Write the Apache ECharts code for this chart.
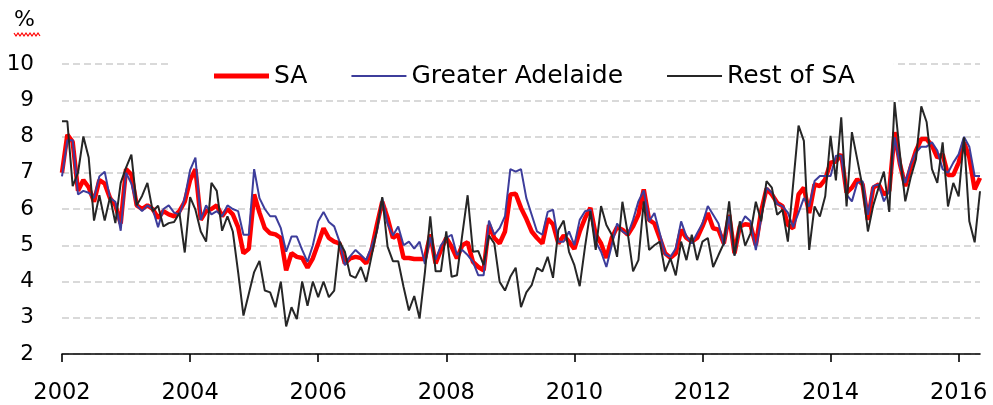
<!DOCTYPE html>
<html>
<head>
<meta charset="utf-8">
<script src="https://cdn.jsdelivr.net/npm/echarts@6/dist/echarts.min.js"></script>
<style>
  html, body { margin: 0; padding: 0; background: #fff; }
  #chart { width: 993px; height: 405px; }
</style>
</head>
<body>
<div id="chart"></div>
<script>
// monthly, Jan 2002 .. May 2016
const startYear = 2002;
const monthCount = 173;
const categories = [];
for (let i = 0; i < monthCount; i++) {
  const y = startYear + Math.floor(i / 12);
  const m = (i % 12) + 1;
  categories.push(y + "-" + (m < 10 ? "0" + m : m));
}

const saValues = [
  7.0, 8.05, 7.85, 6.5, 6.8, 6.6, 6.2, 6.8, 6.7, 6.3,
  6.1, 5.6, 7.1, 6.95, 6.1, 6.0, 6.1, 6.0, 5.75, 5.94,
  5.85, 5.8, 5.94, 6.2, 6.8, 7.1, 5.7, 5.94, 6.0, 6.1,
  5.8, 6.0, 5.85, 5.5, 4.78, 4.9, 6.4, 5.9, 5.47, 5.33,
  5.3, 5.2, 4.31, 4.78, 4.68, 4.65, 4.38, 4.64, 5.05, 5.47,
  5.2, 5.1, 5.05, 4.5, 4.64, 4.68, 4.65, 4.5, 4.87, 5.56,
  6.2, 5.75, 5.2, 5.3, 4.65, 4.65, 4.62, 4.62, 4.62, 5.3,
  4.5, 4.87, 5.2, 4.96, 4.64, 5.0, 5.08, 4.54, 4.4, 4.31,
  5.56, 5.2, 5.05, 5.38, 6.4, 6.42, 6.03, 5.73, 5.38, 5.2,
  5.05, 5.73, 5.58, 5.05, 5.27, 5.1, 4.9, 5.38, 5.75, 6.03,
  5.29, 5.05, 4.65, 5.2, 5.5, 5.43, 5.29, 5.52, 5.84, 6.54,
  5.7, 5.6, 5.2, 4.78, 4.65, 4.78, 5.43, 5.2, 5.1, 5.2,
  5.52, 5.89, 5.47, 5.43, 5.05, 5.84, 4.78, 5.52, 5.58, 5.56,
  5.0, 5.94, 6.56, 6.4, 6.17, 6.08, 5.56, 5.47, 6.4, 6.59,
  5.89, 6.68, 6.63, 6.82, 7.28, 7.31, 7.51, 6.45, 6.59, 6.82,
  6.68, 5.7, 6.59, 6.68, 6.4, 6.5, 8.12, 7.24, 6.63, 7.14,
  7.61, 7.93, 7.93, 7.75, 7.42, 7.51, 6.94, 6.94, 7.28, 7.84,
  7.42, 6.54, 6.86
];

const adelaideValues = [
  6.9, 7.9, 7.9, 6.4, 6.5, 6.45, 6.3, 6.9, 7.03, 6.3,
  6.2, 5.4, 7.0, 6.7, 6.1, 5.94, 6.1, 6.0, 5.5, 6.0,
  6.1, 5.9, 5.85, 6.3, 7.07, 7.42, 5.7, 6.1, 5.85, 5.94,
  5.8, 6.1, 6.0, 5.94, 5.29, 5.29, 7.1, 6.3, 6.0, 5.8,
  5.8, 5.47, 4.82, 5.24, 5.24, 4.87, 4.54, 5.0, 5.66, 5.92,
  5.64, 5.52, 5.1, 4.45, 4.7, 4.87, 4.73, 4.59, 4.96, 5.38,
  6.3, 5.6, 5.27, 5.52, 5.0, 5.1, 4.91, 5.1, 4.48, 5.22,
  4.6, 5.0, 5.2, 5.29, 4.73, 4.87, 4.73, 4.54, 4.17, 4.17,
  5.68, 5.29, 5.47, 5.8, 7.1, 7.03, 7.1, 6.3, 5.84, 5.38,
  5.29, 5.92, 5.98, 5.1, 5.1, 5.38, 5.0, 5.7, 5.94, 5.98,
  5.1, 4.82, 4.4, 5.0, 5.6, 5.38, 5.29, 5.7, 6.21, 6.51,
  5.66, 5.89, 5.33, 4.75, 4.68, 4.91, 5.66, 5.24, 5.05, 5.33,
  5.6, 6.08, 5.84, 5.6, 5.0, 5.8, 4.73, 5.52, 5.8, 5.66,
  4.87, 5.75, 6.59, 6.45, 6.14, 6.08, 5.9, 5.5, 5.9, 6.3,
  6.07, 6.77, 6.91, 6.91, 6.91, 7.47, 7.47, 6.4, 6.21, 6.72,
  6.77, 5.84, 6.63, 6.68, 6.21, 6.5, 7.98, 7.19, 6.72, 7.24,
  7.56, 7.72, 7.72, 7.84, 7.61, 7.1, 7.0, 7.28, 7.51, 7.99,
  7.72, 6.91, 6.91
];

const restValues = [
  8.42, 8.42, 6.63, 7.0, 8.0, 7.42, 5.68, 6.38, 5.68, 6.33,
  5.61, 6.72, 7.14, 7.5, 6.1, 6.36, 6.72, 5.94, 6.09, 5.52,
  5.61, 5.64, 5.89, 4.8, 6.33, 5.98, 5.38, 5.1, 6.72, 6.5,
  5.4, 5.8, 5.38, 4.26, 3.06, 3.66, 4.26, 4.57, 3.75, 3.7,
  3.29, 4.0, 2.76, 3.29, 2.96, 4.0, 3.33, 4.0, 3.57, 4.0,
  3.57, 3.75, 5.1, 4.82, 4.17, 4.1, 4.4, 3.99, 4.7, 5.42,
  6.33, 4.96, 4.56, 4.56, 3.85, 3.2, 3.6, 2.98, 4.26, 5.8,
  4.28, 4.28, 5.38, 4.13, 4.17, 5.29, 6.38, 4.82, 4.84, 4.45,
  5.27, 5.05, 3.99, 3.75, 4.13, 4.38, 3.29, 3.7, 3.9, 4.38,
  4.28, 4.68, 4.1, 5.42, 5.68, 4.82, 4.45, 3.87, 4.96, 5.94,
  4.87, 6.08, 5.56, 5.29, 4.68, 6.2, 5.33, 4.28, 4.59, 6.21,
  4.87, 5.0, 5.1, 4.28, 4.64, 4.17, 5.1, 4.59, 5.29, 4.59,
  5.1, 5.2, 4.4, 4.73, 5.05, 6.21, 4.71, 5.66, 4.99, 5.33,
  6.2, 5.66, 6.77, 6.59, 5.84, 5.98, 5.1, 6.7, 8.3, 7.88,
  4.87, 6.07, 5.79, 6.35, 8.02, 6.79, 8.53, 6.07, 8.12, 7.37,
  6.6, 5.38, 6.1, 6.59, 7.03, 5.92, 8.95, 7.51, 6.21, 6.86,
  7.37, 8.83, 8.4, 7.1, 6.72, 7.84, 6.07, 6.72, 6.35, 7.98,
  5.66, 5.08, 6.49
];

const FONT = "DejaVu Sans";
const chart = echarts.init(document.getElementById("chart"), null, { renderer: "canvas" });

// squiggle under the % sign
const squiggle = [];
for (let i = 0; i <= 13; i++) {
  squiggle.push([14 + i * 2, i % 2 === 0 ? 33 : 36]);
}

const option = {
  animation: false,
  backgroundColor: "#fff",
  textStyle: { fontFamily: FONT },
  grid: { left: 62, right: 13, top: 64, bottom: 49, containLabel: false },
  legend: {
    left: 170,
    top: 58,
    padding: [4, 39, 4, 44],
    backgroundColor: "#fff",
    itemWidth: 55,
    itemHeight: 14,
    itemGap: 44,
    symbolKeepAspect: true,
    textStyle: { fontFamily: FONT, fontSize: 25, color: "#000", lineHeight: 28 },
    data: [
      { name: "SA", icon: "path://M0,0L55,0L55,5L0,5Z" },
      { name: "Greater Adelaide", icon: "path://M0,0L55,0L55,2L0,2Z" },
      { name: "Rest of SA", icon: "path://M0,0L55,0L55,2L0,2Z" }
    ]
  },
  xAxis: {
    type: "category",
    data: categories,
    boundaryGap: false,
    axisLine: { lineStyle: { color: "#000", width: 1.6 } },
    axisTick: {
      show: true,
      length: 8,
      interval: (idx) => idx % 24 === 0,
      lineStyle: { color: "#000", width: 1.6 }
    },
    axisLabel: {
      interval: (idx) => idx % 24 === 0,
      formatter: (v) => v.slice(0, 4),
      fontFamily: FONT,
      fontSize: 22.5,
      color: "#000",
      margin: 28
    },
    splitLine: { show: false }
  },
  yAxis: {
    type: "value",
    min: 2,
    max: 10,
    interval: 1,
    axisLine: { show: false },
    axisTick: { show: false },
    axisLabel: { fontFamily: FONT, fontSize: 21.5, color: "#000", margin: 28 },
    splitLine: { lineStyle: { color: "#d9d9d9", width: 1.8, type: [7, 4] } }
  },
  series: [
    {
      name: "SA",
      type: "line",
      data: saValues,
      symbol: "none",
      color: "#ff0000",
      lineStyle: { color: "#ff0000", width: 4.5 },
      z: 2
    },
    {
      name: "Greater Adelaide",
      type: "line",
      data: adelaideValues,
      symbol: "none",
      color: "#3d3d9b",
      lineStyle: { color: "#3d3d9b", width: 2 },
      z: 3
    },
    {
      name: "Rest of SA",
      type: "line",
      data: restValues,
      symbol: "none",
      color: "#262626",
      lineStyle: { color: "#262626", width: 2 },
      z: 4
    }
  ],
  graphic: [
    {
      type: "text",
      left: 14,
      top: 9,
      style: { text: "%", fontFamily: FONT, fontSize: 22, fill: "#000" }
    },
    {
      type: "polyline",
      shape: { points: squiggle },
      style: { stroke: "#ff0000", lineWidth: 1.2, fill: null }
    }
  ]
};

chart.setOption(option);
</script>
</body>
</html>
